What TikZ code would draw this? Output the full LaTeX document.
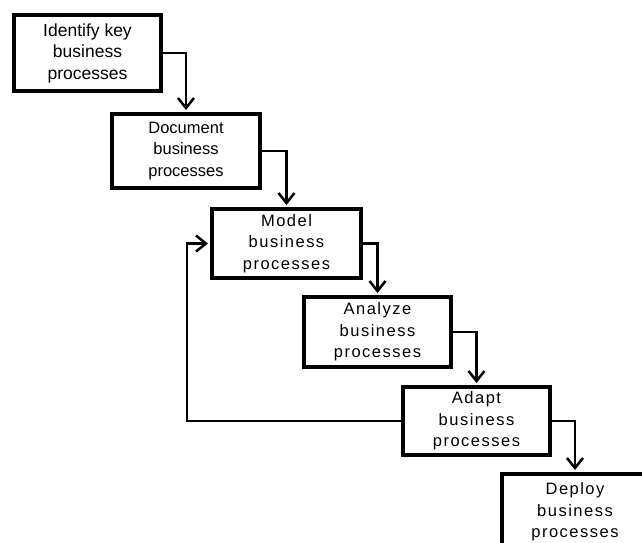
\documentclass[tikz,border=0pt]{standalone}
\usepackage{fontspec}
\setmainfont{Liberation Sans}
\newfontfamily\widesans[LetterSpace=9]{Liberation Sans}
\usetikzlibrary{arrows.meta}
\begin{document}
\begin{tikzpicture}[x=1pt,y=-1pt,
  stage/.style={draw=black, line width=4pt, fill=white, inner sep=0pt,
    align=center, font=\fontsize{16.5}{21.5}\selectfont},
  widestage/.style={stage, font=\fontsize{16.5}{21.5}\selectfont\widesans},
  flow/.style={draw=black, line width=2.5pt, shorten >=2pt,
    -{Straight Barb[length=10pt,width=16pt,line width=2.5pt]}}]
  \useasboundingbox (0,0) rectangle (642,542);
  \clip (0,0) rectangle (642,542);

  % process stages, stepping down to the right
  \node[stage, minimum width=147pt, minimum height=76pt,
    font=\fontsize{17.5}{21.5}\selectfont] (b1) at (87.5,53)
    {Identify key\\business\\processes};
  \node[stage, minimum width=148pt, minimum height=74pt] (b2) at (186,151)
    {Document\\business\\processes};
  \node[widestage, minimum width=149pt, minimum height=69pt] (b3) at (286.5,243.5)
    {Model\\business\\processes};
  \node[widestage, minimum width=147pt, minimum height=70pt] (b4) at (377.5,332)
    {Analyze\\business\\processes};
  \node[widestage, minimum width=147pt, minimum height=68pt] (b5) at (476.5,421)
    {Adapt\\business\\processes};
  \node[widestage, minimum width=146pt, minimum height=76pt] (b6) at (575,512)
    {Deploy\\business\\processes};

  % forward steps
  \draw[flow] (b1.east) -| (b2.north);
  \draw[flow] (b2.east) -| (b3.north);
  \draw[flow] (b3.east) -| (b4.north);
  \draw[flow] (b4.east) -| (b5.north);
  \draw[flow] (b5.east) -| (b6.north);

  % feedback loop from adapting back to modelling
  \coordinate (loop) at (187,330);
  \draw[flow] (b5.west) -- (b5.west -| loop) |- (b3.west);
\end{tikzpicture}
\end{document}
